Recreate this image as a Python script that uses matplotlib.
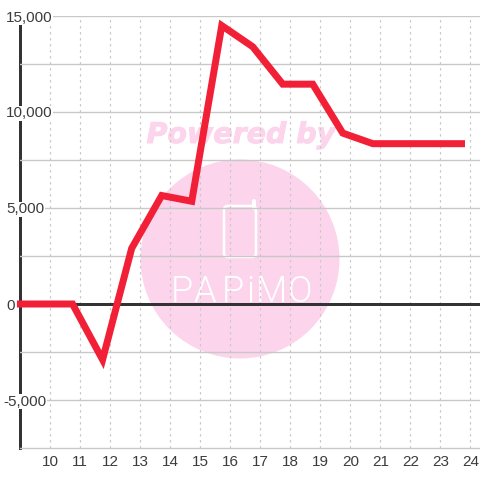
import matplotlib
matplotlib.use("Agg")
import matplotlib.patheffects as pe
import matplotlib.pyplot as plt
from matplotlib.patches import Circle, FancyBboxPatch
from matplotlib.transforms import ScaledTranslation

x_vals = [8.9, 9.75, 10.75, 11.75, 12.72, 13.72, 14.72, 15.72, 16.75, 17.75, 18.75, 19.75, 20.75, 21.75, 22.75, 23.82]
y_vals = [0, 0, 0, -2900, 2900, 5650, 5350, 14500, 13400, 11450, 11450, 8900, 8350, 8350, 8350, 8350]
x_ticks = list(range(10, 25))
y_ticks = [-5000, -2500, 0, 2500, 5000, 7500, 10000, 12500, 15000]
y_labels = ["-5,000", "", "0", "", "5,000", "", "10,000", "", "15,000"]
logo_letters = ["P", "A", "P", "i", "M", "O"]

PINK = "#fcd5ec"
GRID = "#c8c8c8"
DARK = "#333333"
RED = "#f22036"
PX = 0.72  # points per pixel at dpi 100

plt.rcParams["font.family"] = ["Liberation Sans", "DejaVu Sans"]
fig = plt.figure(figsize=(4.8, 4.8), dpi=100, facecolor="white")


def px(x, y):
    return x / 480, 1 - y / 480


# ── Watermark, behind the plot ────────────────────────────────────────────────
fig.add_artist(Circle(px(240, 259), 99.5 / 480, transform=fig.transFigure,
                      facecolor=PINK, edgecolor="none", zorder=-5))
fig.text(*px(241, 135), "Powered by", color=PINK, fontsize=20.5, fontweight="bold",
         fontstyle="italic", family=["DejaVu Sans"], ha="center", va="center", zorder=-5,
         path_effects=[pe.withStroke(linewidth=0.7, foreground=PINK)])

x0, y0 = px(224, 257)
x1, y1 = px(256, 206)
fig.add_artist(FancyBboxPatch((x0, y0), x1 - x0, y1 - y0,
                              boxstyle="round,pad=0,rounding_size=0.008",
                              transform=fig.transFigure, facecolor="none",
                              edgecolor="white", linewidth=2.5 * PX, zorder=-4))
fig.add_artist(plt.Line2D([254.5 / 480, 254.5 / 480], [1 - 208 / 480, 1 - 201 / 480],
                          color="white", linewidth=4 * PX, solid_capstyle="round",
                          transform=fig.transFigure, zorder=-4))

for ch, xp in zip(logo_letters, [182, 205, 233, 250, 271, 300]):
    fig.text(*px(xp, 292), ch, color="white", fontsize=26, family=["Roboto"],
             fontweight=300, ha="center", va="center", zorder=-4)

# ── Chart ─────────────────────────────────────────────────────────────────────
ax = fig.add_axes([20 / 480, 32 / 480, 460 / 480, 432 / 480])
ax.patch.set_visible(False)
ax.set_xlim(9, 24.32)
ax.set_ylim(-7500, 15000)

ax.set_xticks(x_ticks)
ax.set_yticks(y_ticks)
ax.set_yticklabels(y_labels)
ax.grid(axis="y", color=GRID, linewidth=1.4 * PX)
ax.grid(axis="x", color=GRID, linewidth=1.2 * PX, linestyle=(0, (2, 3)))
ax.tick_params(axis="both", length=0, labelsize=11, labelcolor="#3c3c3c")
ax.tick_params(axis="y", pad=14 * PX)
ax.tick_params(axis="x", pad=5)
for lab, txt in zip(ax.get_yticklabels(), y_labels):
    lab.set_ha("left")
    lab.set_bbox(dict(facecolor="white", edgecolor="none", pad=0.5))
    if txt.startswith("-"):
        lab.set_transform(lab.get_transform() + ScaledTranslation(-3 / 100, 0, fig.dpi_scale_trans))

for side in ["top", "right"]:
    ax.spines[side].set_visible(False)
ax.spines["bottom"].set_color(GRID)
ax.spines["bottom"].set_linewidth(1.4 * PX)
ax.spines["left"].set_color(DARK)
ax.spines["left"].set_linewidth(3 * PX)
ax.spines["left"].set_zorder(1)
ax.xaxis.set_zorder(2)
ax.yaxis.set_zorder(2)

ax.axhline(0, color=DARK, linewidth=3 * PX, zorder=3)
ax.plot(x_vals, y_vals, color=RED, linewidth=7 * PX, solid_joinstyle="miter",
        solid_capstyle="butt", clip_on=False, zorder=4)

fig.savefig("out.png", dpi=100)
